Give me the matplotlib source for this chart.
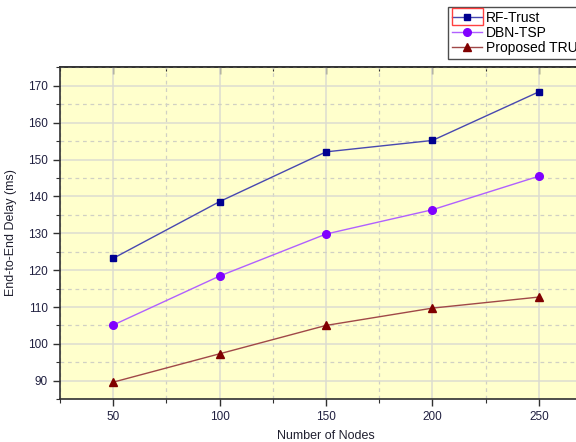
import matplotlib.pyplot as plt
from matplotlib.ticker import MultipleLocator
from matplotlib.patches import Rectangle

plt.rcParams['font.family'] = ['Liberation Sans', 'DejaVu Sans']

nodes = [50, 100, 150, 200, 250]
rf_trust = [123.2, 138.6, 152.1, 155.2, 168.4]
dbn_tsp = [105.1, 118.4, 129.8, 136.4, 145.5]
proposed = [89.6, 97.3, 105.0, 109.7, 112.7]

fig = plt.figure(figsize=(5.76, 4.42), dpi=100)
ax = fig.add_axes([0.104, 0.097, 0.924, 0.752])
ax.set_facecolor('#ffffcc')

# grid: solid majors, dashed minors
ax.xaxis.set_major_locator(MultipleLocator(50))
ax.xaxis.set_minor_locator(MultipleLocator(25))
ax.yaxis.set_major_locator(MultipleLocator(10))
ax.yaxis.set_minor_locator(MultipleLocator(5))
ax.grid(which='major', color='#dcdcd0', linewidth=1.1, linestyle='-')
ax.grid(which='minor', color='#d0d0c4', linewidth=0.9, linestyle=(0, (3, 3)))
ax.set_axisbelow(True)

ax.plot(nodes, rf_trust, color='#4848b0', lw=1.0, marker='s', ms=4.8,
        mfc='#000090', mec='#000090', label='RF-Trust')
ax.plot(nodes, dbn_tsp, color='#b060ff', lw=1.0, marker='o', ms=5.5,
        mfc='#8000ff', mec='#8000ff', label='DBN-TSP')
ax.plot(nodes, proposed, color='#a04848', lw=1.0, marker='^', ms=5.5,
        mfc='#800000', mec='#800000', label='Proposed TRUX')

ax.set_xlim(25, 275)
ax.set_ylim(85, 175.2)

for s in ['left', 'bottom', 'top']:
    ax.spines[s].set_color('#303030')
    ax.spines[s].set_linewidth(1.2)
ax.spines['right'].set_visible(False)

ax.tick_params(which='both', direction='out', colors='#303030',
               labelcolor='#202040', labelsize=8.5)
ax.tick_params(which='major', length=5, width=1.0)
ax.tick_params(which='minor', length=3, width=0.8)

# top axis carries inward ticks only
top = ax.secondary_xaxis('top')
top.xaxis.set_major_locator(MultipleLocator(50))
top.xaxis.set_minor_locator(MultipleLocator(25))
top.tick_params(which='both', direction='in', colors='#303030', labeltop=False)
top.tick_params(which='major', length=5, width=1.0)
top.tick_params(which='minor', length=3, width=0.8)
top.spines['top'].set_color('#303030')
top.spines['top'].set_linewidth(1.2)

ax.set_xlabel('Number of Nodes', fontsize=9, color='#202030', labelpad=5)
ax.set_ylabel('End-to-End Delay (ms)', fontsize=9, color='#202030', labelpad=8)

leg = fig.legend(loc='upper left', bbox_to_anchor=(0.778, 0.984),
                 fontsize=10, frameon=True, fancybox=False, borderpad=0.25,
                 handlelength=2.2, handletextpad=0.3, labelspacing=0.1,
                 borderaxespad=0, markerscale=1.0)
leg.get_frame().set_edgecolor('#202020')
leg.get_frame().set_linewidth(1.0)

# red selection box around first legend handle
sel = Rectangle((0.784, 0.943), 0.054, 0.038, transform=fig.transFigure,
                fill=False, edgecolor='#ff4040', linewidth=1.0, zorder=10)
fig.patches.append(sel)

fig.savefig('out.png', dpi=100)
